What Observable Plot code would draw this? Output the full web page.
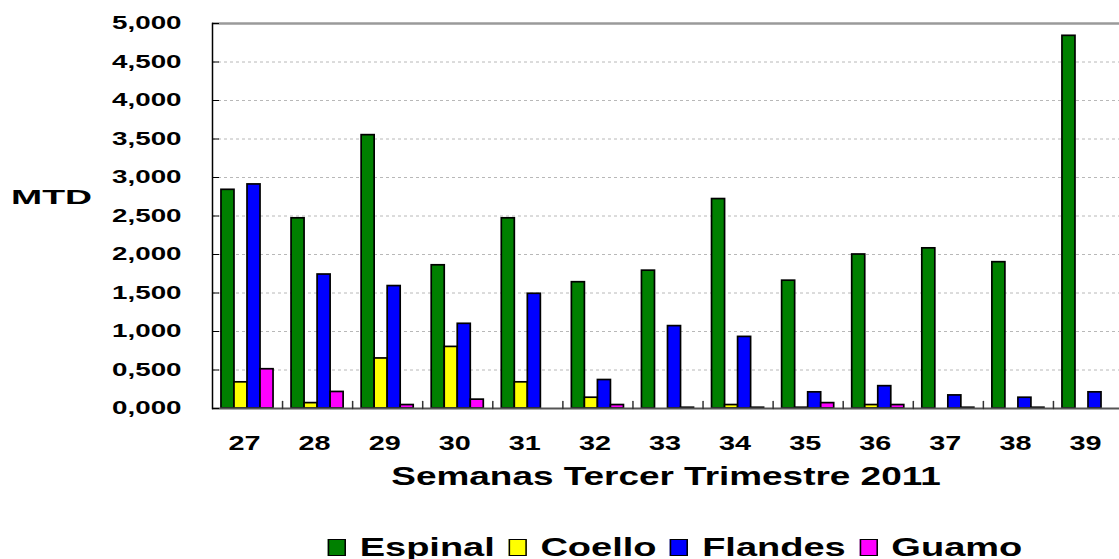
<!DOCTYPE html>
<html><head><meta charset="utf-8">
<script src="https://cdn.jsdelivr.net/npm/d3@7"></script>
<script src="https://cdn.jsdelivr.net/npm/@observablehq/plot@0.6"></script>
<style>
body{margin:0;background:#fff;font-family:"Liberation Sans",Arial,sans-serif;}
#chart svg{display:block;}
#legend{position:relative;width:1119px;height:39px;overflow:visible;}
#legend .inner{position:absolute;left:675px;top:14px;height:26px;display:flex;align-items:center;transform:translateX(-50%) scaleX(1.52);transform-origin:center;white-space:nowrap;}
#legend .item{display:flex;align-items:center;margin-right:9px;}
#legend .item:last-child{margin-right:0;}
#legend .sw{width:10px;height:15px;border:1.5px solid #000;margin-right:9px;}
#legend .lbl{font-size:25px;font-weight:bold;line-height:26px;color:#000;}
</style></head>
<body>
<div id="chart"></div>
<div id="legend"><div class="inner"></div></div>
<script>
const weeks = ["27","28","29","30","31","32","33","34","35","36","37","38","39"];
const seriesNames = ["Espinal","Coello","Flandes","Guamo"];
const seriesColors = ["#008000","#ffff00","#0000ff","#ff00ff"];
const espinal = [2840, 2470, 3550, 1860, 2470, 1640, 1790, 2720, 1660, 2000, 2080, 1900, 4840];
const coello  = [340, 70, 650, 800, 340, 140, 0, 45, 10, 45, 0, 0, 0];
const flandes = [2910, 1740, 1590, 1100, 1490, 370, 1070, 930, 210, 290, 170, 140, 210];
const guamo   = [510, 215, 45, 115, 0, 45, 10, 10, 70, 45, 10, 10, 0];
const yTicks = [0, 500, 1000, 1500, 2000, 2500, 3000, 3500, 4000, 4500, 5000];
const xTitle = "Semanas Tercer Trimestre 2011";
const yTitle = "MTD";

const seriesValues = [espinal, coello, flandes, guamo];
const data = weeks.flatMap((w, i) => seriesNames.map((s, j) => ({week: w, serie: s, value: seriesValues[j][i]})));
const fmt = d => (d / 1000).toFixed(3).replace(".", ",");
const FONT = '"Liberation Sans", Arial, sans-serif';

const W = 1119, H = 520, ML = 212, MR = 0, MT = 23, MB = 112;
const xOpts = {type: "band", domain: weeks, paddingInner: 0.257, paddingOuter: 0.128, round: false, range: [ML, W + 4]};
const xs = Plot.scale({x: xOpts});
const bw = xs.bandwidth, step = xs.step, n = seriesNames.length;

const bars = seriesNames.map((s, j) =>
  Plot.barY(data.filter(d => d.serie === s), {
    x: "week", y: "value", fill: "serie", stroke: "#000", strokeWidth: 1.7,
    insetLeft: j * bw / n, insetRight: (n - 1 - j) * bw / n
  })
);

const tickUp = {draw(context, l) { context.moveTo(0, 0); context.lineTo(0, -l); }};

const plot = Plot.plot({
  width: W, height: H,
  marginLeft: ML, marginRight: MR, marginTop: MT, marginBottom: MB,
  style: {fontFamily: FONT, fontWeight: "bold", color: "#000", background: "#fff", overflow: "visible"},
  x: {...xOpts, axis: null},
  y: {domain: [0, 5000], axis: null},
  color: {domain: seriesNames, range: seriesColors},
  marks: [
    Plot.ruleY(yTicks.filter(d => d > 0 && d < 5000), {stroke: "#b8b8b8", strokeDasharray: "3,3", strokeWidth: 1}),
    Plot.ruleY([5000], {stroke: "#9a9a9a", strokeWidth: 2.5}),
    ...bars,
    Plot.ruleY([0], {stroke: "#555", strokeWidth: 2}),
    Plot.vector(weeks.slice(0, -1), {x: d => d, y: 0, length: 7, anchor: "start", dx: step / 2, stroke: "#333", strokeWidth: 1.5, shape: tickUp}),
    Plot.frame({anchor: "left", stroke: "#000", strokeWidth: 1.5}),
    Plot.axisY({ticks: yTicks, anchor: "left", tickSize: -7, tickPadding: 38, tickFormat: fmt, fontSize: 18.5, fontWeight: "bold", label: null}),
    Plot.axisX({anchor: "bottom", tickSize: 0, tickPadding: 27, dx: -3, fontSize: 21, fontWeight: "bold", label: null}),
    Plot.text([yTitle], {frameAnchor: "left", textAnchor: "middle", lineAnchor: "middle", dx: -161, dy: -19, fontSize: 21, fontWeight: "bold"}),
    Plot.text([xTitle], {frameAnchor: "bottom", textAnchor: "middle", lineAnchor: "middle", dy: 68, fontSize: 26, fontWeight: "bold"})
  ]
});
document.getElementById("chart").appendChild(plot);

// horizontal stretch of the texts, as in the reference
function stretchText(t, f) {
  const L = t.getComputedTextLength();
  t.setAttribute("textLength", L * f);
  t.setAttribute("lengthAdjust", "spacingAndGlyphs");
}
plot.querySelectorAll('g[aria-label="y-axis tick label"] text').forEach(t => stretchText(t, 1.5));
plot.querySelectorAll('g[aria-label="x-axis tick label"] text').forEach(t => stretchText(t, 1.37));
plot.querySelectorAll('g[aria-label="text"] text').forEach(t => {
  if (t.textContent === yTitle) stretchText(t, 1.78);
  else if (t.textContent === xTitle) stretchText(t, 1.42);
});

// legend
const inner = d3.select("#legend .inner");
seriesNames.forEach((s, i) => {
  const it = inner.append("span").attr("class", "item");
  it.append("span").attr("class", "sw").style("background", seriesColors[i]);
  it.append("span").attr("class", "lbl").text(s);
});
</script>
</body></html>
